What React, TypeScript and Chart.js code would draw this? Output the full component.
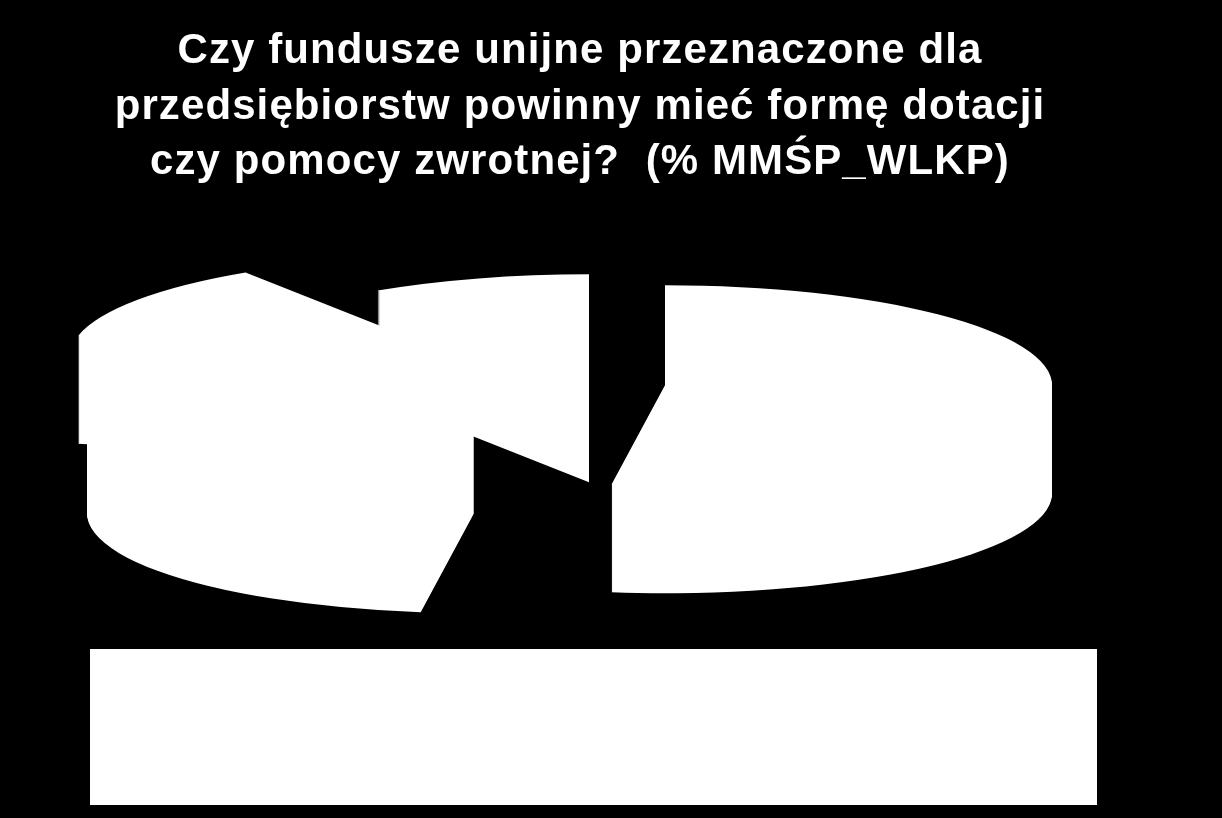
import React, { useEffect, useRef } from "react";
import { Chart, registerables } from "chart.js";

Chart.register(...registerables);

// Slices of the pie (all are white on white in the picture, so their legend text cannot be read)
const sliceLabels = ["Część 1", "Część 2", "Część 3", "Część 4"];
const sliceValues = [52.2, 26.1, 12.5, 9.2];

const titleLines = [
  "Czy fundusze unijne przeznaczone dla",
  "przedsiębiorstw powinny mieć formę dotacji",
  "czy pomocy zwrotnej?  (% MMŚP_WLKP)",
];

// Look of the 3D pie
const PIE_RADIUS = 387;
const TILT = 100 / 387;
const DEPTH = 108;
// How far each slice is pulled away from the chart's centre
const sliceShiftX = [85, -106, -123, 9];
const sliceShiftY = [5, 25, -24, -6];

const pie3d = {
  id: "pie3d",
  beforeDraw(chart: any) {
    const { ctx, width, height } = chart;
    ctx.save();
    ctx.fillStyle = "#000000";
    ctx.fillRect(0, 0, width, height);
    ctx.fillStyle = "#ffffff";
    ctx.fillRect(90, 649, 1007, 156);
    ctx.restore();
    ctx.letterSpacing = "1.1px";
  },
  beforeDatasetsDraw(chart: any) {
    const { ctx } = chart;
    const arcs = chart.getDatasetMeta(0).data;
    for (let d = DEPTH; d >= 0; d--) {
      arcs.forEach((arc: any, i: number) => {
        ctx.save();
        ctx.translate(arc.x + sliceShiftX[i], arc.y + sliceShiftY[i] + d);
        ctx.scale(1, TILT);
        ctx.translate(-arc.x, -arc.y);
        arc.draw(ctx);
        ctx.restore();
      });
    }
    return false;
  },
};

export default function App() {
  const ref = useRef<HTMLCanvasElement | null>(null);

  useEffect(() => {
    document.body.style.margin = "0";
    document.body.style.background = "#000";
    const chart = new Chart(ref.current as HTMLCanvasElement, {
      type: "pie",
      data: {
        labels: sliceLabels,
        datasets: [
          {
            data: sliceValues,
            backgroundColor: "#ffffff",
            borderWidth: 0,
            radius: PIE_RADIUS,
            clip: false,
          } as any,
        ],
      },
      plugins: [pie3d],
      options: {
        animation: false,
        responsive: false,
        devicePixelRatio: 1,
        layout: { padding: { left: 0, right: 62, top: 0, bottom: 258 } },
        plugins: {
          legend: { display: false },
          tooltip: { enabled: false },
          title: {
            display: true,
            fullSize: false,
            text: titleLines,
            color: "#ffffff",
            font: { family: "'Liberation Sans', Arial, sans-serif", size: 42, weight: "bold", lineHeight: "55.5px" },
            padding: { top: 24, bottom: 10 },
          },
        },
      },
    } as any);
    return () => chart.destroy();
  }, []);

  return (
    <div style={{ position: "absolute", left: 0, top: 0, width: 1222, height: 818, background: "#000" }}>
      <canvas ref={ref} width={1222} height={818} style={{ display: "block" }} />
    </div>
  );
}
